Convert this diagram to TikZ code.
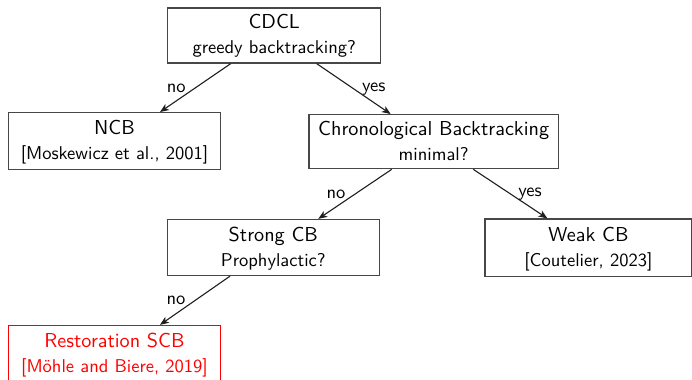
\documentclass[tikz,border=0pt]{standalone}
\usepackage{fontspec}
\usetikzlibrary{arrows.meta,calc}
\newcommand\PX{0.54pt}
\tikzset{
  box/.style={draw=black!72, line width=0.7pt, rectangle, inner sep=0pt},
  redbox/.style={draw=red, line width=0.7pt, rectangle, inner sep=0pt},
  ttl/.style={anchor=base, inner sep=0pt, font=\sffamily\fontsize{10.9}{13}\selectfont},
  sub/.style={anchor=base, inner sep=0pt, font=\sffamily\fontsize{10}{12}\selectfont},
  edge/.style={draw=black!88, line width=0.6pt, -{Stealth[length=4.8pt,width=3.8pt,inset=1.3pt]}},
  lbl/.style={inner sep=0pt, font=\sffamily\fontsize{10}{12}\selectfont},
}
\begin{document}
\begin{tikzpicture}[x=\PX, y=-\PX]
\useasboundingbox (0,0) rectangle (692,380);
% boxes
\node[box, minimum width=213*\PX, minimum height=55*\PX] (cdcl) at (274.2,35.5) {};
\node[box, minimum width=212.4*\PX, minimum height=57*\PX] (ncb) at (114.5,141.2) {};
\node[box, minimum width=249.3*\PX, minimum height=54*\PX] (chrono) at (433.7,141.7) {};
\node[box, minimum width=212*\PX, minimum height=56*\PX] (strong) at (273.3,247.5) {};
\node[box, minimum width=206.7*\PX, minimum height=57.5*\PX] (weak) at (588.4,247.8) {};
\node[redbox, minimum width=212.4*\PX, minimum height=56*\PX] (resto) at (114.5,353.5) {};
% texts
\node[ttl] (cdclT) at ($(cdcl.center)+(0,-6.5)$) {CDCL};
\node[sub] (cdclS) at ($(cdcl.center)+(0,18.5)$) {greedy backtracking?};
\node[ttl] (ncbT) at ($(ncb.center)+(0,-6.5)$) {NCB};
\node[sub] (ncbS) at ($(ncb.center)+(0,18.5)$) {[Moskewicz et al., 2001]};
\node[ttl] (chronoT) at ($(chrono.center)+(0,-6.5)$) {Chronological Backtracking};
\node[sub] (chronoS) at ($(chrono.center)+(0,18.5)$) {minimal?};
\node[ttl] (strongT) at ($(strong.center)+(0,-6.5)$) {Strong CB};
\node[sub] (strongS) at ($(strong.center)+(0,18.5)$) {Prophylactic?};
\node[ttl] (weakT) at ($(weak.center)+(0,-6.5)$) {Weak CB};
\node[sub] (weakS) at ($(weak.center)+(0,18.5)$) {[Coutelier, 2023]};
\node[ttl, text=red] (restoT) at ($(resto.center)+(0,-6.5)$) {Restoration SCB};
\node[sub, text=red] (restoS) at ($(resto.center)+(0,18.5)$) {[Möhle and Biere, 2019]};
% edges
\draw[edge] ($(cdcl.south)+(-43.5,0)$) -- node[lbl, left=4.9pt] (l1) {no} ($(ncb.north)+(45.5,0)$);
\draw[edge] ($(cdcl.south)+(42.5,0)$) -- node[lbl, right=4.2pt] (l2) {yes} ($(chrono.north)+(-43,0)$);
\draw[edge] ($(chrono.south)+(-42,0)$) -- node[lbl, left=4.9pt] (l3) {no} ($(strong.north)+(45,0)$);
\draw[edge] ($(chrono.south)+(39.6,0)$) -- node[lbl, right=4.0pt] (l4) {yes} ($(weak.north)+(-41,0)$);
\draw[edge] ($(strong.south)+(-43.3,0)$) -- node[lbl, left=4.9pt] (l5) {no} ($(resto.north)+(45.5,0)$);
\end{tikzpicture}
\end{document}
